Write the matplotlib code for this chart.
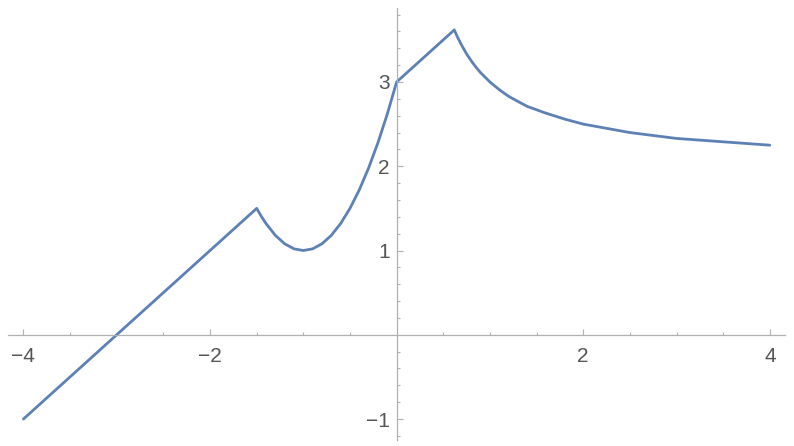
import matplotlib.pyplot as plt
import numpy as np

# values
xs = [-4.0, -1.5, -1.45, -1.4, -1.3, -1.2, -1.1, -1.0, -0.9, -0.8, -0.7, -0.6,
      -0.5, -0.4, -0.3, -0.2, -0.1, 0.0, 0.618, 0.65, 0.7, 0.75, 0.8, 0.85,
      0.9, 1.0, 1.1, 1.2, 1.3, 1.4, 1.6, 1.8, 2.0, 2.5, 3.0, 3.5, 4.0]
ys = [-1.0, 1.5, 1.405, 1.32, 1.18, 1.08, 1.02, 1.0, 1.02, 1.08, 1.18, 1.32,
      1.5, 1.72, 1.98, 2.28, 2.62, 3.0, 3.618, 3.538, 3.43, 3.333, 3.25, 3.176,
      3.11, 3.0, 2.909, 2.83, 2.769, 2.71, 2.63, 2.56, 2.5, 2.4, 2.33, 2.29, 2.25]
x_ticks = [-4, -2, 2, 4]
y_ticks = [-1, 1, 2, 3]

AXIS = '#b0b0b0'
TEXT = '#555555'

plt.rcParams['font.family'] = ['Liberation Sans', 'DejaVu Sans']

fig = plt.figure(figsize=(7.94, 4.46), dpi=100)
ax = fig.add_axes([0, 0, 1, 1])
ax.plot(xs, ys, color='#5E81B5', lw=2.0, solid_joinstyle='round',
        solid_capstyle='round')

ax.set_xlim(-4.251, 4.259)
ax.set_ylim(-1.320, 3.973)

for side in ('top', 'right'):
    ax.spines[side].set_visible(False)
ax.spines['left'].set_position(('data', 0))
ax.spines['bottom'].set_position(('data', 0))
ax.spines['bottom'].set_bounds(-4.165, 4.163)
ax.spines['left'].set_bounds(-1.249, 3.878)
for side in ('left', 'bottom'):
    ax.spines[side].set_color(AXIS)
    ax.spines[side].set_linewidth(0.9)

ax.set_xticks(x_ticks)
ax.set_yticks(y_ticks)
ax.set_xticks([v for v in np.arange(-4, 4.01, 0.5) if v not in x_ticks and v != 0], minor=True)
ax.set_yticks([round(v, 1) for v in np.arange(-1.2, 3.81, 0.2)
               if round(v, 1) not in y_ticks and abs(v) > 1e-9], minor=True)
ax.tick_params(which='both', direction='in', color=AXIS, width=0.8,
               labelcolor=TEXT, labelsize=15)
ax.tick_params(which='major', length=4.5)
ax.tick_params(axis='x', which='major', pad=8.5)
ax.tick_params(axis='y', which='major', pad=5)
ax.tick_params(which='minor', length=2.5)

fig.savefig('out.png', dpi=100)
